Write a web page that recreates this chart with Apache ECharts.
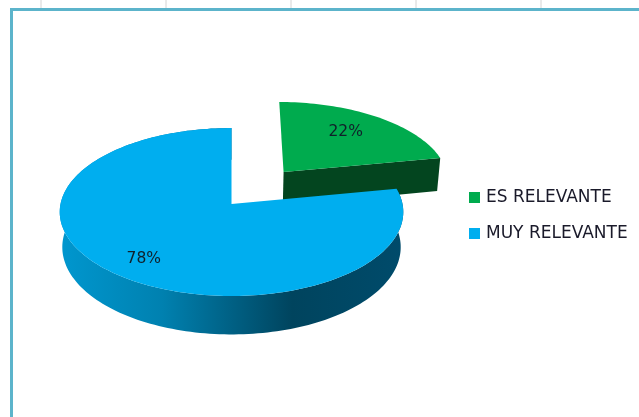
<!DOCTYPE html>
<html>
<head>
<meta charset="utf-8">
<style>html,body{margin:0;padding:0;background:#fff}#c{width:639px;height:417px}</style>
<script src="https://cdn.jsdelivr.net/npm/echarts@6/dist/echarts.min.js"></script>
</head>
<body>
<div id="c"></div>
<script>
var categories = ['ES RELEVANTE', 'MUY RELEVANTE'];
var values = [22, 78];
var labels = ['22%', '78%'];
var topColors = ['#00AB4E', '#00AEEF'];

var chart = echarts.init(document.getElementById('c'), null, {renderer: 'canvas'});
var total = values[0] + values[1];

// perspective projection of the pie plane
var C = {x: 231.5, y: 204, rx: 171, ry: 83.2, k: 0.0952, depth: 34.8, baseScale: 0.985};
function proj(u, v) {
  var d = 1 + C.k * v;
  return [C.x + C.rx * u / d, C.y - C.ry * v / d];
}
function projBase(u, v) {
  var d = 1 + C.k * v;
  return [C.x + C.baseScale * C.rx * u / d, C.y - C.ry * v / d + C.depth / d];
}
function arc(fn, a0, a1, ou, ov, rad) {
  var pts = [], n = Math.max(4, Math.ceil((a1 - a0) / 1.5));
  for (var i = 0; i <= n; i++) {
    var a = (a0 + (a1 - a0) * i / n) * Math.PI / 180;
    pts.push(fn(ou + rad * Math.sin(a), ov + rad * Math.cos(a)));
  }
  return pts;
}
function sliceSpan(i) {
  var s = 0;
  for (var j = 0; j < i; j++) s += values[j];
  return [s / total * 360, (s + values[i]) / total * 360];
}
var labelFont = '15.5px "DejaVu Sans"';

function renderGreen(params, api) {
  var sp = sliceSpan(0), explode = 0.506, rad = 0.99;
  var mid = (sp[0] + sp[1]) / 2 * Math.PI / 180;
  var ou = explode * Math.sin(mid) * 0.98, ov = explode * Math.cos(mid) * 1.02;
  var endA = sp[1] * Math.PI / 180;
  var eu = ou + rad * Math.sin(endA), ev = ov + rad * Math.cos(endA);
  var wall = [proj(ou, ov), proj(eu, ev), projBase(eu, ev), projBase(ou, ov)];
  var top = [proj(ou, ov)].concat(arc(proj, sp[0], sp[1], ou, ov, rad));
  var r = 0.64, lp = proj(ou + r * Math.sin(mid), ov + r * Math.cos(mid));
  return {type: 'group', children: [
    {type: 'polygon', shape: {points: wall}, style: {fill: '#03451F'}},
    {type: 'polygon', shape: {points: top}, style: {fill: topColors[0]}},
    {type: 'text', x: lp[0], y: lp[1] - 3.5, style: {text: labels[0], fill: '#10202A', font: labelFont, align: 'center', verticalAlign: 'middle'}}
  ]};
}
function renderBlue(params, api) {
  var sp = sliceSpan(1);
  var mid = (sp[0] + sp[1]) / 2 * Math.PI / 180;
  var rimT = arc(proj, sp[0], sp[1], 0, 0, 1);
  var rimB = arc(projBase, sp[0], sp[1], 0, 0, 1).reverse();
  var grad = new echarts.graphic.LinearGradient(59, 0, 402, 0, [
    {offset: 0, color: '#0097CF'},
    {offset: 0.3, color: '#0081B0'},
    {offset: 0.68, color: '#00445E'},
    {offset: 1, color: '#004B6B'}
  ], true);
  var top = [proj(0, 0)].concat(rimT);
  var r = 0.76, lp = proj(r * Math.sin(mid), r * Math.cos(mid));
  return {type: 'group', children: [
    {type: 'polygon', shape: {points: rimT.concat(rimB)}, style: {fill: grad}},
    {type: 'polygon', shape: {points: top}, style: {fill: topColors[1]}},
    {type: 'text', x: lp[0], y: lp[1] + 3.5, style: {text: labels[1], fill: '#10202A', font: labelFont, align: 'center', verticalAlign: 'middle'}}
  ]};
}

var grid = [41, 166, 291, 416, 541].map(function (x) {
  return {type: 'line', shape: {x1: x, y1: 0, x2: x, y2: 8}, style: {stroke: '#D4D4D4', lineWidth: 1}, silent: true};
});

chart.setOption({
  animation: false,
  backgroundColor: '#fff',
  legend: {
    orient: 'vertical', left: 469, top: 189, padding: 0, itemWidth: 11, itemHeight: 11, itemGap: 19,
    icon: 'rect', selectedMode: false,
    data: categories,
    textStyle: {color: '#1A1A2A', fontFamily: '"DejaVu Sans"', fontSize: 17, padding: [0, 0, 0, 1]}
  },
  graphic: grid.concat([
    {type: 'rect', shape: {x: 10, y: 8, width: 629, height: 3}, style: {fill: '#5CB4CB'}, silent: true},
    {type: 'rect', shape: {x: 10, y: 8, width: 3, height: 409}, style: {fill: '#5CB4CB'}, silent: true}
  ]),
  series: [
    {type: 'custom', name: categories[0], coordinateSystem: 'none', data: [values[0]], renderItem: renderGreen, itemStyle: {color: topColors[0]}, silent: true},
    {type: 'custom', name: categories[1], coordinateSystem: 'none', data: [values[1]], renderItem: renderBlue, itemStyle: {color: topColors[1]}, silent: true}
  ]
});
</script>
</body>
</html>
